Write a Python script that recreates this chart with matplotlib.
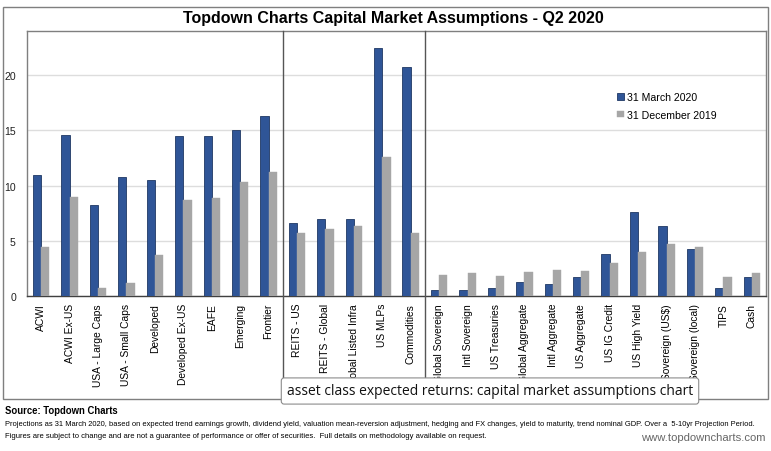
import matplotlib
matplotlib.use("Agg")
import matplotlib.pyplot as plt
import numpy as np
from matplotlib.patches import Rectangle
from matplotlib.lines import Line2D
from matplotlib.transforms import blended_transform_factory

categories = ["ACWI", "ACWI Ex-US", "USA - Large Caps", "USA - Small Caps", "Developed",
              "Developed Ex-US", "EAFE", "Emerging", "Frontier",
              "REITS - US", "REITS - Global", "Global Listed Infra", "US MLPs", "Commodities",
              "Global Sovereign", "Intl Sovereign", "US Treasuries", "Global Aggregate",
              "Intl Aggregate", "US Aggregate", "US IG Credit", "US High Yield",
              "Sovereign (US$)", "Sovereign (local)", "TIPS", "Cash"]
march_2020 = [11.0, 14.6, 8.2, 10.8, 10.5, 14.5, 14.45, 15.0, 16.3,
              6.6, 7.0, 7.0, 22.5, 20.7,
              0.5, 0.5, 0.7, 1.3, 1.1, 1.75, 3.8, 7.6, 6.35, 4.3, 0.75, 1.7]
dec_2019 = [4.4, 9.0, 0.7, 1.2, 3.7, 8.7, 8.9, 10.3, 11.2,
            5.7, 6.1, 6.3, 12.6, 5.7,
            1.9, 2.05, 1.8, 2.2, 2.4, 2.3, 2.95, 4.0, 4.75, 4.4, 1.7, 2.1]
group_breaks = [8.5, 13.5]
yticks = [0, 5, 10, 15, 20]
series_names = ["31 March 2020", "31 December 2019"]

W, H = 771, 452
fig = plt.figure(figsize=(W / 100, H / 100), dpi=100)
plt.rcParams['font.family'] = ['Liberation Sans', 'DejaVu Sans']

def px(x0, y0, x1, y1):
    return [x0 / W, 1 - y1 / H, (x1 - x0) / W, (y1 - y0) / H]

ax = fig.add_axes(px(27, 32, 766, 297))
x = np.arange(len(categories))
bw = 0.29
ax.bar(x - bw / 2, march_2020, width=bw, color="#2F5597", edgecolor="#1F3864",
       linewidth=0.6, label=series_names[0], zorder=3)
ax.bar(x + bw / 2, dec_2019, width=bw, color="#A6A6A6", edgecolor="#A6A6A6",
       linewidth=0.3, label=series_names[1], zorder=3)
ax.set_xlim(-0.5, len(categories) - 0.5)
ax.set_ylim(0, 24)
ax.set_yticks(yticks)
ax.yaxis.grid(True, color="#DDDDDD", linewidth=1.0, zorder=0)
ax.set_axisbelow(True)
ax.tick_params(axis="y", length=0, pad=8, labelsize=7.6, labelcolor="#222222")
ax.set_xticks(x)
ax.set_xticklabels(categories, rotation=90, fontsize=7.4, va="top", ha="center")
ax.tick_params(axis="x", length=0, pad=5)
for s in ["left", "top", "right"]:
    ax.spines[s].set_color("#7F7F7F")
    ax.spines[s].set_linewidth(1.0)
ax.spines["bottom"].set_color("#404040")
ax.spines["bottom"].set_linewidth(1.0)

# group separators extending down to frame bottom
tr = blended_transform_factory(ax.transData, ax.transAxes)
ybot = -(400 - 297) / (297 - 32)
for b in group_breaks:
    ax.add_line(Line2D([b, b], [1, ybot], transform=tr, color="#555555",
                       linewidth=1.0, clip_on=False, zorder=4))

leg = ax.legend(loc="upper left", bbox_to_anchor=(0.793, 0.785), frameon=False,
                fontsize=7.6, handlelength=0.6, handleheight=0.6, handletextpad=0.3,
                labelspacing=0.7, borderaxespad=0)

# outer frame
fig.add_artist(Rectangle((3 / W, 1 - 400 / H), 765 / W, 392 / H, transform=fig.transFigure,
                         fill=False, edgecolor="#7F7F7F", linewidth=1.0, zorder=1))

renderer = fig.canvas.get_renderer()

def fit(t, width_px):
    bb = t.get_window_extent(renderer=renderer)
    t.set_fontsize(t.get_fontsize() * width_px / bb.width)

title = fig.text(393 / W, 1 - 18 / H, "Topdown Charts Capital Market Assumptions - Q2 2020",
                 ha="center", va="center", fontsize=12, fontweight="bold")
fit(title, 418)

src = fig.text(5 / W, 1 - 411 / H, "Source: Topdown Charts", ha="left", va="center",
               fontsize=7, fontweight="bold")
fit(src, 113)
p1 = fig.text(5 / W, 1 - 425 / H,
              "Projections as 31 March 2020, based on expected trend earnings growth, dividend yield, valuation mean-reversion adjustment, hedging and FX changes, yield to maturity, trend nominal GDP. Over a  5-10yr Projection Period.",
              ha="left", va="center", fontsize=6)
fit(p1, 760)
p2 = fig.text(5 / W, 1 - 437 / H,
              "Figures are subject to change and are not a guarantee of performance or offer of securities.  Full details on methodology available on request.",
              ha="left", va="center", fontsize=6)
fit(p2, 485)
www = fig.text(766 / W, 1 - 438 / H, "www.topdowncharts.com", ha="right", va="center",
               fontsize=6, color="#666666")
fit(www, 126)

note = fig.text(490 / W, 1 - 392 / H,
                "asset class expected returns: capital market assumptions chart",
                ha="center", va="center", fontsize=10, family=["Open Sans", "DejaVu Sans"],
                color="#111111", zorder=10,
                bbox=dict(boxstyle="round,pad=0.4,rounding_size=0.2", facecolor="white",
                          edgecolor="#8C8C8C", linewidth=0.8))
fit(note, 408)

fig.savefig("out.png", dpi=100)
